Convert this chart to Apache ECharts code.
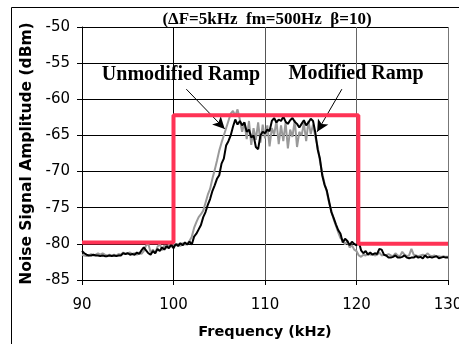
<!DOCTYPE html>
<html>
<head>
<meta charset="utf-8">
<script src="https://cdn.jsdelivr.net/npm/echarts@6/dist/echarts.min.js"></script>
<style>html,body{margin:0;padding:0;background:#fff}#c{width:459px;height:344px}</style>
</head>
<body>
<div id="c"></div>
<script>
// Frequency grid (kHz)
const freqStart = 90, freqStep = 0.25;
// Black trace (dBm)
const blackValues = [
-81.0,-81.3,-81.5,-81.6,-81.6,-81.5,-81.6,-81.6,-81.7,-81.6,-81.7,-81.7,-81.6,-81.7,-81.6,-81.7,
-81.6,-81.6,-81.3,-81.4,-81.3,-81.5,-81.4,-81.5,-81.2,-81.4,-80.9,-80.5,-80.9,-81.3,-81.5,-81.0,
-81.3,-80.7,-81.0,-80.5,-80.8,-80.3,-80.6,-80.1,-80.6,-80.0,-80.3,-79.9,-80.2,-79.8,-80.1,-79.7,
-80.1,-79.0,-78.6,-78.0,-77.4,-76.3,-75.6,-74.6,-73.8,-72.7,-71.9,-71.0,-70.5,-68.9,-68.2,-66.4,
-65.8,-65.0,-63.8,-62.8,-63.5,-63.0,-63.6,-63.2,-64.5,-64.2,-65.3,-65.0,-66.6,-66.9,-65.0,-64.5,
-64.7,-64.2,-64.4,-63.0,-62.6,-63.2,-62.8,-63.0,-62.4,-63.1,-63.4,-62.9,-62.6,-63.1,-63.4,-63.9,
-63.4,-62.9,-63.6,-63.2,-62.7,-63.0,-64.6,-66.9,-68.2,-70.5,-71.8,-72.6,-74.1,-75.6,-76.4,-77.3,
-78.1,-78.6,-79.8,-79.3,-79.6,-80.2,-79.7,-80.0,-80.2,-79.7,-80.9,-81.3,-81.0,-81.5,-81.2,-81.5,
-81.3,-81.4,-80.7,-80.8,-81.5,-81.6,-81.9,-81.9,-81.8,-81.6,-81.9,-81.9,-81.8,-81.6,-81.9,-82.0,
-81.9,-81.9,-81.7,-81.9,-81.8,-82.0,-81.6,-81.9,-81.8,-81.9,-81.8,-81.7,-82.0,-81.9,-81.8,-81.9,
-81.9];
// Gray trace (dBm)
const grayValues = [
-81.5,-81.6,-81.7,-81.6,-81.4,-81.6,-81.5,-81.3,-81.5,-81.3,-81.5,-81.6,-81.5,-81.6,-81.5,-81.6,
-81.4,-81.5,-81.2,-81.4,-81.3,-81.2,-81.4,-81.3,-81.5,-81.2,-81.4,-81.0,-80.2,-80.0,-81.2,-80.8,
-81.3,-80.4,-80.0,-80.9,-80.2,-80.6,-80.1,-80.4,-80.1,-80.2,-80.0,-80.3,-79.9,-80.1,-80.0,-79.6,
-79.0,-77.8,-77.0,-76.3,-75.9,-75.4,-74.3,-73.2,-72.4,-71.0,-69.8,-68.5,-67.1,-66.0,-65.0,-64.0,
-63.0,-62.0,-61.6,-62.3,-61.4,-62.8,-64.5,-63.2,-65.5,-63.0,-66.3,-64.0,-65.6,-63.2,-66.0,-63.5,
-65.4,-63.6,-66.5,-64.0,-64.9,-63.0,-66.2,-63.6,-65.8,-63.2,-66.8,-64.2,-65.2,-62.9,-66.6,-64.5,
-65.0,-63.3,-65.8,-63.0,-64.8,-63.5,-65.2,-66.5,-68.5,-70.2,-71.6,-72.8,-74.3,-75.4,-76.6,-77.5,
-78.4,-79.2,-79.5,-80.1,-79.6,-80.5,-80.2,-80.8,-81.0,-81.6,-81.8,-81.5,-81.6,-81.3,-81.5,-81.4,
-81.6,-81.5,-81.2,-81.6,-81.5,-81.6,-81.4,-81.6,-81.7,-81.3,-81.6,-81.7,-81.1,-81.5,-81.7,-81.6,
-80.7,-81.5,-81.6,-81.7,-81.6,-81.5,-81.7,-81.3,-81.6,-81.7,-81.6,-81.8,-81.7,-81.8,-81.7,-81.8,
-81.8];
// Red step (kHz, dBm)
const redFreq = [90, 100, 100, 120.2, 120.2, 130];
const redValues = [-79.8, -79.8, -62.2, -62.2, -80.0, -80.0];
// Axis ticks
const xTicks = [90, 100, 110, 120, 130];
const yTicks = [-85, -80, -75, -70, -65, -60, -55, -50];
// Arrow annotation endpoints (kHz, dBm)
const arrowUnmod = [[101.4, -58.6], [105.6, -64.1]];
const arrowMod = [[118.4, -58.6], [115.7, -64.5]];

const toPairs = vals => vals.map((v, i) => [freqStart + i * freqStep, v]);
const blackData = toPairs(blackValues);
const grayData = toPairs(grayValues);
const redData = redFreq.map((f, i) => [f, redValues[i]]);

const chart = echarts.init(document.getElementById('c'), null, {renderer: 'canvas'});
const serif = '"Liberation Serif", "DejaVu Serif", serif';
const sans = '"DejaVu Sans", Verdana, sans-serif';
chart.setOption({
  animation: false,
  backgroundColor: '#fff',
  grid: {left: 82, top: 27, right: 11, bottom: 64, containLabel: false, outerBoundsMode: 'none'},
  xAxis: {
    type: 'value', min: xTicks[0], max: xTicks[xTicks.length - 1], interval: 10,
    name: 'Frequency (kHz)', nameLocation: 'middle', nameGap: 45,
    nameTextStyle: {fontFamily: sans, fontWeight: 'bold', fontSize: 14.5, color: '#000'},
    axisLine: {onZero: false, lineStyle: {color: '#000', width: 1}},
    axisTick: {show: true, length: 5, lineStyle: {color: '#000'}},
    axisLabel: {fontFamily: sans, fontSize: 15, color: '#000', margin: 18, hideOverlap: false},
    splitLine: {show: true, lineStyle: {color: ['#000', '#000', '#555', '#666', '#777'], width: 1}}
  },
  yAxis: {
    type: 'value', min: yTicks[0], max: yTicks[yTicks.length - 1], interval: 5,
    name: 'Noise Signal Amplitude (dBm)', nameLocation: 'middle', nameGap: 42, nameRotate: 90,
    nameTextStyle: {fontFamily: sans, fontWeight: 'bold', fontSize: 15.5, color: '#000'},
    axisLine: {show: true, onZero: false, lineStyle: {color: '#000', width: 1}},
    axisTick: {show: true, length: 5, lineStyle: {color: '#000'}},
    axisLabel: {fontFamily: sans, fontSize: 15, color: '#000', margin: 12},
    splitLine: {show: true, lineStyle: {color: '#000', width: 1}}
  },
  series: [
    {type: 'line', data: grayData, showSymbol: false, lineStyle: {color: '#999', width: 2}, z: 3},
    {type: 'line', data: blackData, showSymbol: false, lineStyle: {color: '#000', width: 2}, z: 4,
     markLine: {
       silent: true, symbol: ['none', 'arrow'], symbolSize: [9, 12], animation: false,
       label: {show: false},
       lineStyle: {color: '#000', width: 1, type: 'solid'},
       data: [
         [{coord: arrowUnmod[0]}, {coord: arrowUnmod[1]}],
         [{coord: arrowMod[0]}, {coord: arrowMod[1]}]
       ]
     }},
    {type: 'line', data: redData, showSymbol: false, lineStyle: {color: '#ff3355', width: 4}, z: 5}
  ],
  graphic: [
    {type: 'rect', shape: {x: 11.5, y: 7.5, width: 470, height: 360}, style: {fill: 'none', stroke: '#000', lineWidth: 1}, z: -1, silent: true},
    {type: 'text', x: 267, y: 20, style: {text: '(ΔF=5kHz  fm=500Hz  β=10)', font: 'bold 17px ' + serif, fill: '#000', textAlign: 'center', textVerticalAlign: 'middle'}, z: 10},
    {type: 'text', x: 181, y: 75, style: {text: 'Unmodified Ramp', font: 'bold 20px ' + serif, fill: '#000', textAlign: 'center', textVerticalAlign: 'middle'}, z: 10},
    {type: 'text', x: 356, y: 74, style: {text: 'Modified Ramp', font: 'bold 20px ' + serif, fill: '#000', textAlign: 'center', textVerticalAlign: 'middle'}, z: 10}
  ]
});
</script>
</body>
</html>
